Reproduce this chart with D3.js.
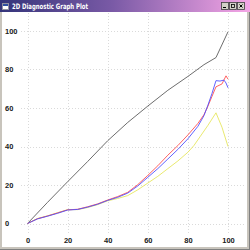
<!DOCTYPE html>
<html>
<head>
<meta charset="utf-8">
<script src="https://cdn.jsdelivr.net/npm/d3@7"></script>
<style>
  body { margin: 0; background: #fff; }
  svg { display: block; }
</style>
</head>
<body>
<svg id="chart"></svg>
<script>
// tick values
const xTicks = [0, 20, 40, 60, 80, 100];
const yTicks = [0, 20, 40, 60, 80, 100];

// series
const grayX = [0, 10, 20, 30, 40, 50, 60, 70, 80, 88, 94, 100];
const grayY = [0, 11, 21.7, 32.2, 43, 52.5, 61, 69.2, 76.4, 82.5, 86.2, 99.6];

const blueX = [0, 5, 10, 15, 20, 25, 30, 35, 40, 45, 50, 55, 60, 65, 70, 75, 80, 85, 88, 90, 92, 94, 96, 98, 99, 100];
const blueY = [0, 2.4, 3.8, 5.3, 7, 7.3, 8.5, 10, 12, 13.6, 15.8, 19.5, 24, 28.5, 33.5, 38.5, 44, 50.5, 56, 61.5, 67.5, 74.2, 74, 74.5, 73, 70.5];

const redX = [0, 5, 10, 15, 20, 25, 30, 35, 40, 45, 50, 55, 60, 65, 70, 75, 80, 85, 88, 90, 92, 94, 95, 97, 99, 100];
const redY = [0, 2.5, 3.9, 5.5, 7.1, 7.4, 8.7, 10.2, 12.2, 14, 16.2, 20.2, 25, 30, 35.5, 40.5, 46, 52, 56.5, 61, 66, 71, 71.5, 72.5, 76.7, 75];

const yellowX = [0, 5, 10, 15, 20, 25, 30, 35, 40, 45, 50, 55, 60, 65, 70, 75, 80, 83, 86, 90, 94, 97, 100];
const yellowY = [0, 2.6, 4, 5.6, 7.2, 7.2, 8.3, 9.8, 11.8, 13, 14.5, 17.5, 21, 24.5, 28.5, 32.5, 37, 40.5, 45, 51, 57.5, 50, 40];

const W = 250, H = 250;

const svg = d3.select('#chart')
  .attr('width', W)
  .attr('height', H);

// window frame
svg.append('rect').attr('x', 0).attr('y', 0).attr('width', W).attr('height', H).attr('fill', '#fff');
svg.append('rect').attr('x', 0).attr('y', 0).attr('width', 2).attr('height', H).attr('fill', '#c8c4bc');
svg.append('rect').attr('x', W - 3).attr('y', 0).attr('width', 3).attr('height', H).attr('fill', '#c8c4bc');
svg.append('rect').attr('x', 0).attr('y', H - 3).attr('width', W).attr('height', 3).attr('fill', '#c8c4bc');
svg.append('rect').attr('x', W - 1).attr('y', 0).attr('width', 1).attr('height', H).attr('fill', '#808080');
svg.append('rect').attr('x', 0).attr('y', H - 1).attr('width', W).attr('height', 1).attr('fill', '#808080');

// title bar
const grad = svg.append('defs').append('linearGradient')
  .attr('id', 'tb').attr('x1', 0).attr('x2', 1).attr('y1', 0).attr('y2', 0);
grad.append('stop').attr('offset', '0%').attr('stop-color', '#34347a');
grad.append('stop').attr('offset', '45%').attr('stop-color', '#7a5aa6');
grad.append('stop').attr('offset', '100%').attr('stop-color', '#f6a6e6');

svg.append('rect').attr('x', 0).attr('y', 0).attr('width', W).attr('height', 12).attr('fill', 'url(#tb)');

// little window icon
svg.append('rect').attr('x', 2.5).attr('y', 3.5).attr('width', 6).attr('height', 6)
  .attr('fill', '#fff').attr('stroke', '#9090a0');
svg.append('rect').attr('x', 3).attr('y', 4).attr('width', 5).attr('height', 2).attr('fill', '#3050a0');

svg.append('text')
  .attr('x', 12).attr('y', 9)
  .attr('font-family', 'DejaVu Sans, sans-serif')
  .attr('font-weight', 'bold')
  .attr('font-size', '7.5px')
  .attr('fill', '#fff')
  .attr('textLength', 76)
  .attr('lengthAdjust', 'spacingAndGlyphs')
  .text('2D Diagnostic Graph Plot');

// caption buttons
const btnX = [221, 229, 237];
const btns = svg.append('g');
btnX.forEach((bx, i) => {
  btns.append('rect').attr('x', bx + 0.5).attr('y', 2.5).attr('width', 7).attr('height', 7)
    .attr('fill', '#d4d0c8').attr('stroke', '#404040').attr('stroke-width', 0.8);
  if (i === 0) {
    btns.append('rect').attr('x', bx + 2).attr('y', 7).attr('width', 3).attr('height', 1).attr('fill', '#000');
  } else if (i === 1) {
    btns.append('rect').attr('x', bx + 2.5).attr('y', 4.5).attr('width', 3).attr('height', 3)
      .attr('fill', 'none').attr('stroke', '#000').attr('stroke-width', 0.8);
  } else {
    btns.append('path').attr('d', `M${bx + 2.5},4.5L${bx + 5.5},7.5M${bx + 5.5},4.5L${bx + 2.5},7.5`)
      .attr('stroke', '#000').attr('stroke-width', 1);
  }
});

// scales
const x = d3.scaleLinear().domain([0, 100]).range([27.5, 228]);
const y = d3.scaleLinear().domain([0, 100]).range([223.5, 31]);

// grid
const grid = svg.append('g')
  .attr('stroke', '#dadada')
  .attr('stroke-width', 1)
  .attr('stroke-dasharray', '1,2');

grid.selectAll('.vg').data(xTicks).join('line')
  .attr('class', 'vg')
  .attr('x1', d => Math.round(x(d)) + 0.5).attr('x2', d => Math.round(x(d)) + 0.5)
  .attr('y1', 13).attr('y2', 234);

grid.selectAll('.hg').data(yTicks).join('line')
  .attr('class', 'hg')
  .attr('x1', 21).attr('x2', 245)
  .attr('y1', d => Math.round(y(d)) + 0.5).attr('y2', d => Math.round(y(d)) + 0.5);

// x axis labels
const xAxis = d3.axisBottom(x).tickValues(xTicks).tickSize(0).tickPadding(0);
const xg = svg.append('g')
  .attr('transform', 'translate(0,238)')
  .call(xAxis);
xg.select('.domain').remove();
xg.selectAll('text')
  .attr('font-family', 'Liberation Sans, Arial, sans-serif')
  .attr('font-weight', 'bold')
  .attr('font-size', '7.5px')
  .attr('fill', '#202020');

// y axis labels, left aligned
const yAxis = d3.axisLeft(y).tickValues(yTicks).tickSize(0).tickPadding(0);
const yg = svg.append('g')
  .attr('transform', 'translate(5,0)')
  .call(yAxis);
yg.select('.domain').remove();
yg.selectAll('text')
  .attr('text-anchor', 'start')
  .attr('x', 0)
  .attr('font-family', 'Liberation Sans, Arial, sans-serif')
  .attr('font-weight', 'bold')
  .attr('font-size', '7.5px')
  .attr('fill', '#202020');

// lines
const line = d3.line().x(d => x(d[0])).y(d => y(d[1]));
const series = [
  { xs: grayX, ys: grayY, color: '#5c5c5c' },
  { xs: yellowX, ys: yellowY, color: '#e6e660' },
  { xs: redX, ys: redY, color: '#ff5050' },
  { xs: blueX, ys: blueY, color: '#5050ff' }
];

svg.append('g').selectAll('path')
  .data(series)
  .join('path')
  .attr('d', s => line(s.xs.map((v, i) => [v, s.ys[i]])))
  .attr('fill', 'none')
  .attr('stroke', s => s.color)
  .attr('stroke-width', 0.9);
</script>
</body>
</html>
